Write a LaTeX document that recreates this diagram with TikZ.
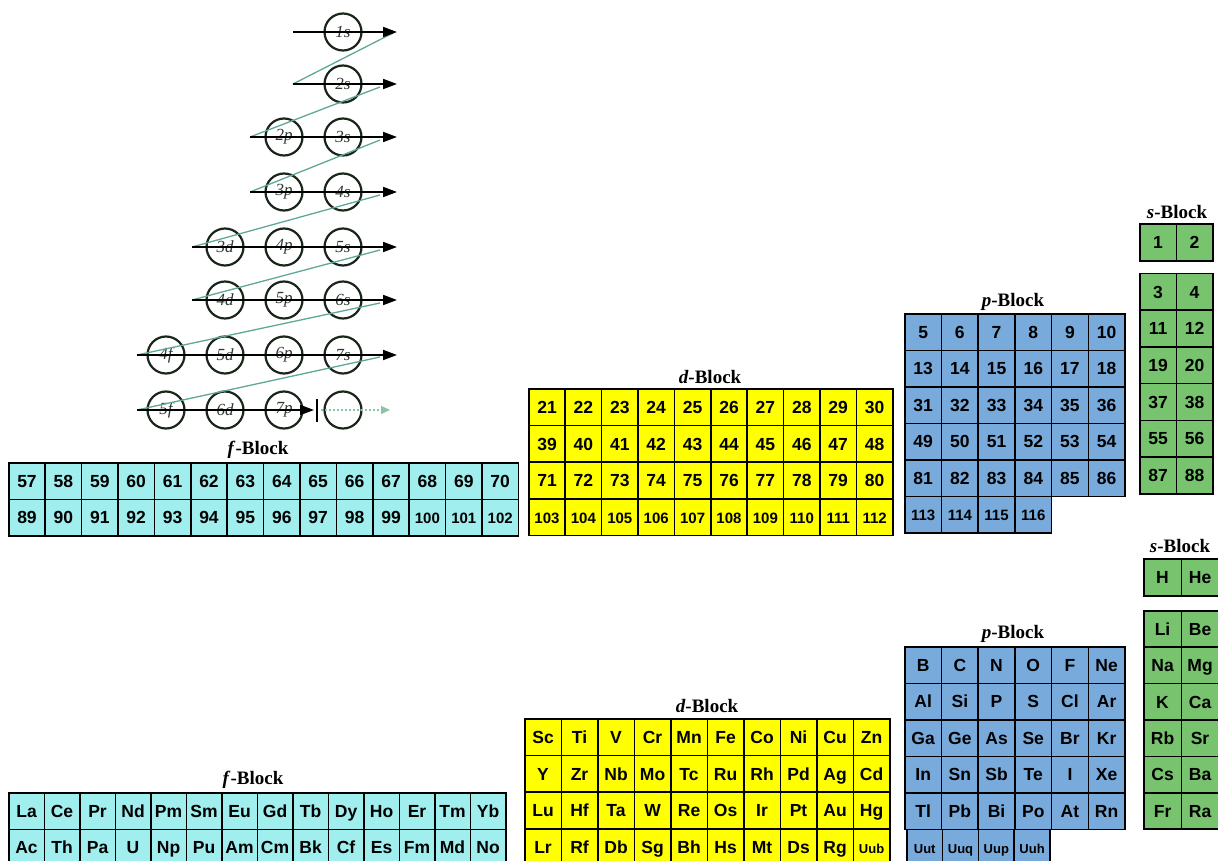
\documentclass[tikz,border=0pt]{standalone}
\usepackage{fontspec}
\setmainfont{Liberation Serif}
\newfontfamily\cellsans{Liberation Sans}
\usetikzlibrary{arrows.meta}
\definecolor{fcyan}{HTML}{A0EEEE}
\definecolor{dyellow}{HTML}{FFFF00}
\definecolor{pblue}{HTML}{78AADC}
\definecolor{sgreen}{HTML}{78C36E}
\definecolor{diagteal}{HTML}{5FA896}
\definecolor{lightarrow}{HTML}{8CC4A4}
\definecolor{orbline}{HTML}{1A261A}
\definecolor{orbtext}{HTML}{2E3A2E}
\newcommand\tinynum[1]{{\fontsize{15}{15}\selectfont #1}}
\newcommand\tinysym[1]{{\fontsize{13}{13}\selectfont #1}}
% #1 prefix, #2 x0, #3 y, #4 w, #5 h, #6 fill, #7 list
\newcommand\cellrow[7]{%
  \foreach \t [count=\i from 0] in {#7} {
    \node[cellbox, fill=#6, minimum width=#4pt, minimum height=#5pt, anchor=north west]
      (#1-\i) at ({#2+\i*#4},#3) {\t};
  }}
\begin{document}
\begin{tikzpicture}[x=1pt,y=-1pt,
  cellbox/.style={draw=black, line width=1.6pt, inner sep=0pt,
    text height=12.4pt, text depth=0pt,
    font={\cellsans\bfseries\fontsize{17.5}{17.5}\selectfont}},
  blocklabel/.style={inner sep=0pt, font={\bfseries\fontsize{19}{19}\selectfont}},
  orb/.style={circle, draw=orbline, line width=2.2pt, minimum size=37pt, inner sep=0pt,
    text=orbtext, font={\itshape\fontsize{17}{17}\selectfont}},
  rowarrow/.style={draw=black, line width=1.9pt, -{Triangle[length=14pt,width=10pt]}},
  diag/.style={draw=diagteal, line width=1.3pt}]
\path[use as bounding box, clip] (0,0) rectangle (1218,861);

% ---------------- Aufbau diagram ----------------
\foreach \n/\y/\xs in {1/32/293,2/84/293,3/137/250,4/192/250,5/247/192,6/300/192,7/355/137,8/410/137}{
  \coordinate (rs\n) at (\xs,\y);
  \coordinate (re\n) at (397,\y);
}
\coordinate (re8) at (314,410);
\coordinate (bart) at (317,399);
\coordinate (barb) at (317,422);
\coordinate (ds8) at (321,410);
\coordinate (de8) at (390,410);
% diagonal starts
\coordinate (dg1) at (395,32);
\foreach \n/\y in {2/87,3/140,4/195,5/250,6/303,7/357}{
  \coordinate (dg\n) at (380,\y);
}
% circles
\node[orb] (o1s) at (343,32) {1s};
\node[orb] (o2s) at (343,84) {2s};
\node[orb] (o2p) at (284,137) {2p};
\node[orb] (o3s) at (343,137) {3s};
\node[orb] (o3p) at (284,192) {3p};
\node[orb] (o4s) at (343,192) {4s};
\node[orb] (o3d) at (225,247) {3d};
\node[orb] (o4p) at (284,247) {4p};
\node[orb] (o5s) at (343,247) {5s};
\node[orb] (o4d) at (225,300) {4d};
\node[orb] (o5p) at (284,300) {5p};
\node[orb] (o6s) at (343,300) {6s};
\node[orb] (o4f) at (166,355) {4f};
\node[orb] (o5d) at (225,355) {5d};
\node[orb] (o6p) at (284,355) {6p};
\node[orb] (o7s) at (343,355) {7s};
\node[orb] (o5f) at (166,410) {5f};
\node[orb] (o6d) at (225,410) {6d};
\node[orb] (o7p) at (284,410) {7p};
\node[orb] (o8s) at (343,410) {};
% diagonals
\draw[diag] (dg1) -- (rs2);
\draw[diag] (dg2) -- (rs3);
\draw[diag] (dg3) -- (rs4);
\draw[diag] (dg4) -- (rs5);
\draw[diag] (dg5) -- (rs6);
\draw[diag] (dg6) -- (rs7);
\draw[diag] (dg7) -- (rs8);
% row arrows
\foreach \n in {1,...,8}{ \draw[rowarrow] (rs\n) -- (re\n); }
\draw[line width=2.2pt, black] (bart) -- (barb);
\draw[lightarrow, line width=1.3pt, dash pattern=on 2pt off 2pt,
  -{Triangle[length=9pt,width=8pt,fill=lightarrow]}] (ds8) -- (de8);

% ---------------- Top: numbers ----------------
\node[blocklabel] (lft) at (258,450) {\textit{f}-Block};
\cellrow{ft0}{8}{462}{36.4}{36.5}{fcyan}{57,58,59,60,61,62,63,64,65,66,67,68,69,70}
\cellrow{ft1}{8}{498.5}{36.4}{36.5}{fcyan}{89,90,91,92,93,94,95,96,97,98,99,\tinynum{100},\tinynum{101},\tinynum{102}}

\node[blocklabel] (ldt) at (710,377) {\textit{d}-Block};
\cellrow{dt0}{528}{388}{36.4}{36.7}{dyellow}{21,22,23,24,25,26,27,28,29,30}
\cellrow{dt1}{528}{424.7}{36.4}{36.7}{dyellow}{39,40,41,42,43,44,45,46,47,48}
\cellrow{dt2}{528}{461.4}{36.4}{36.7}{dyellow}{71,72,73,74,75,76,77,78,79,80}
\cellrow{dt3}{528}{498.1}{36.4}{36.7}{dyellow}{\tinynum{103},\tinynum{104},\tinynum{105},\tinynum{106},\tinynum{107},\tinynum{108},\tinynum{109},\tinynum{110},\tinynum{111},\tinynum{112}}

\node[blocklabel] (lpt) at (1013,302) {\textit{p}-Block};
\cellrow{pt0}{904}{313}{36.7}{36.5}{pblue}{5,6,7,8,9,10}
\cellrow{pt1}{904}{349.5}{36.7}{36.5}{pblue}{13,14,15,16,17,18}
\cellrow{pt2}{904}{386}{36.7}{36.5}{pblue}{31,32,33,34,35,36}
\cellrow{pt3}{904}{422.5}{36.7}{36.5}{pblue}{49,50,51,52,53,54}
\cellrow{pt4}{904}{459}{36.7}{36.5}{pblue}{81,82,83,84,85,86}
\cellrow{pt5}{904}{495.5}{36.7}{36.5}{pblue}{\tinynum{113},\tinynum{114},\tinynum{115},\tinynum{116}}

\node[blocklabel] (lst) at (1177,212) {\textit{s}-Block};
\cellrow{st0}{1139}{223}{36.5}{37}{sgreen}{1,2}
\cellrow{st1}{1139}{272.7}{36.5}{36.7}{sgreen}{3,4}
\cellrow{st2}{1139}{309.4}{36.5}{36.7}{sgreen}{11,12}
\cellrow{st3}{1139}{346.1}{36.5}{36.7}{sgreen}{19,20}
\cellrow{st4}{1139}{382.8}{36.5}{36.7}{sgreen}{37,38}
\cellrow{st5}{1139}{419.5}{36.5}{36.7}{sgreen}{55,56}
\cellrow{st6}{1139}{456.2}{36.5}{36.7}{sgreen}{87,88}

% ---------------- Bottom: symbols ----------------
\node[blocklabel] (lfb) at (253,780) {\textit{f}-Block};
\cellrow{fb0}{8}{792}{35.5}{36.5}{fcyan}{La,Ce,Pr,Nd,Pm,Sm,Eu,Gd,Tb,Dy,Ho,Er,Tm,Yb}
\cellrow{fb1}{8}{828.5}{35.5}{36.5}{fcyan}{Ac,Th,Pa,U,Np,Pu,Am,Cm,Bk,Cf,Es,Fm,Md,No}

\node[blocklabel] (ldb) at (707,706) {\textit{d}-Block};
\cellrow{db0}{524}{718}{36.5}{36.7}{dyellow}{Sc,Ti,V,Cr,Mn,Fe,Co,Ni,Cu,Zn}
\cellrow{db1}{524}{754.7}{36.5}{36.7}{dyellow}{Y,Zr,Nb,Mo,Tc,Ru,Rh,Pd,Ag,Cd}
\cellrow{db2}{524}{791.4}{36.5}{36.7}{dyellow}{Lu,Hf,Ta,W,Re,Os,Ir,Pt,Au,Hg}
\cellrow{db3}{524}{828.1}{36.5}{36.7}{dyellow}{Lr,Rf,Db,Sg,Bh,Hs,Mt,Ds,Rg,\tinysym{Uub}}

\node[blocklabel] (lpb) at (1013,634) {\textit{p}-Block};
\cellrow{pb0}{904}{646}{36.7}{36.5}{pblue}{B,C,N,O,F,Ne}
\cellrow{pb1}{904}{682.5}{36.7}{36.5}{pblue}{Al,Si,P,S,Cl,Ar}
\cellrow{pb2}{904}{719}{36.7}{36.5}{pblue}{Ga,Ge,As,Se,Br,Kr}
\cellrow{pb3}{904}{755.5}{36.7}{36.5}{pblue}{In,Sn,Sb,Te,I,Xe}
\cellrow{pb4}{904}{792}{36.7}{36.5}{pblue}{Tl,Pb,Bi,Po,At,Rn}
\cellrow{pb5}{906}{828.5}{35.8}{36.5}{pblue}{\tinysym{Uut},\tinysym{Uuq},\tinysym{Uup},\tinysym{Uuh}}

\node[blocklabel] (lsb) at (1180,546) {\textit{s}-Block};
\cellrow{sb0}{1143}{558}{37.5}{37}{sgreen}{H,He}
\cellrow{sb1}{1143}{610}{37.5}{36.4}{sgreen}{Li,Be}
\cellrow{sb2}{1143}{646.4}{37.5}{36.4}{sgreen}{Na,Mg}
\cellrow{sb3}{1143}{682.8}{37.5}{36.4}{sgreen}{K,Ca}
\cellrow{sb4}{1143}{719.2}{37.5}{36.4}{sgreen}{Rb,Sr}
\cellrow{sb5}{1143}{755.6}{37.5}{36.4}{sgreen}{Cs,Ba}
\cellrow{sb6}{1143}{792}{37.5}{36.4}{sgreen}{Fr,Ra}
\end{tikzpicture}
\end{document}
